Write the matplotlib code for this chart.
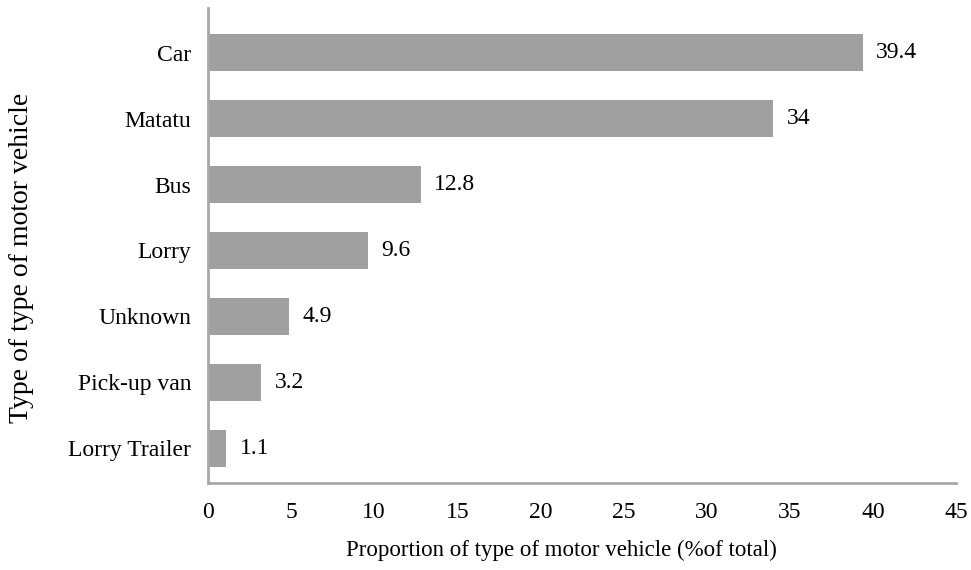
import matplotlib.pyplot as plt

categories = ['Lorry Trailer', 'Pick-up van', 'Unknown', 'Lorry', 'Bus', 'Matatu', 'Car']
values = [1.1, 3.2, 4.9, 9.6, 12.8, 34, 39.4]
value_labels = ['1.1', '3.2', '4.9', '9.6', '12.8', '34', '39.4']

plt.rcParams['font.family'] = ['Liberation Serif', 'DejaVu Serif']

fig = plt.figure(figsize=(9.71, 5.7), dpi=100)
ax = fig.add_axes([0.2142, 0.1526, 0.7704, 0.8334])

bar_col = '#a0a0a0'
axis_col = '#a8a8a8'

pos = range(len(categories))
ax.barh(pos, values, height=0.56, color=bar_col)

# value printed just past the end of each bar
for p, v, lab in zip(pos, values, value_labels):
    ax.text(v + 0.8, p, lab, va='center', ha='left', fontsize=17)

ax.set_xlim(0, 45)
ax.set_ylim(-0.53, 6.68)
ax.set_xticks(range(0, 46, 5))
ax.set_yticks(list(pos))
ax.set_yticklabels(categories)
ax.tick_params(axis='both', length=0, labelsize=17)
ax.tick_params(axis='x', pad=14)
ax.tick_params(axis='y', pad=12)

for s in ['top', 'right']:
    ax.spines[s].set_visible(False)
for s in ['left', 'bottom']:
    ax.spines[s].set_color(axis_col)
    ax.spines[s].set_linewidth(2)

ax.set_xlabel('Proportion of type of motor vehicle (%of total)', fontsize=16.5)
ax.xaxis.set_label_coords(0.472, -0.12)
ax.set_ylabel('Type of type of motor vehicle', fontsize=20)
ax.yaxis.set_label_coords(-0.232, 0.474)

fig.savefig('out.png', dpi=100)
